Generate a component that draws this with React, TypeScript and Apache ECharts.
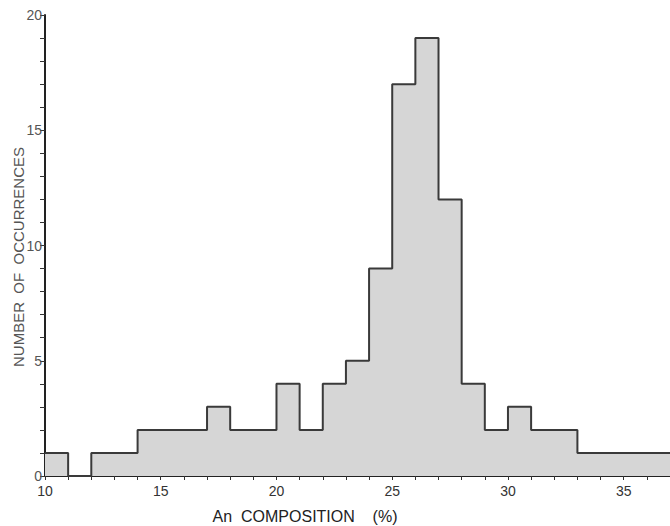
import React, { useEffect, useRef } from "react";
import * as echarts from "echarts";

const binStarts = [10, 11, 12, 13, 14, 15, 16, 17, 18, 19, 20, 21, 22, 23, 24, 25, 26, 27, 28, 29, 30, 31, 32, 33, 34, 35, 36];
const counts = [1, 0, 1, 1, 2, 2, 2, 3, 2, 2, 4, 2, 4, 5, 9, 17, 19, 12, 4, 2, 3, 2, 2, 1, 1, 1, 1];
const binWidth = 1;
const xTitle = "An  COMPOSITION    (%)";
const yTitle = "NUMBER  OF  OCCURRENCES";

export default function App() {
  const ref = useRef<HTMLDivElement>(null);
  useEffect(() => {
    if (!ref.current) return;
    const chart = echarts.init(ref.current, null, { renderer: "svg" });
    const stepData: number[][] = binStarts.map((x, i) => [x, counts[i]]);
    stepData.push([binStarts[binStarts.length - 1] + binWidth, counts[counts.length - 1]]);
    const fmt = (v: number) => (v % 5 === 0 ? String(v) : "");
    chart.setOption({
      animation: false,
      backgroundColor: "#ffffff",
      grid: { left: 45, top: 15, width: 629, height: 461 },
      xAxis: {
        type: "value",
        min: 10,
        max: 37,
        interval: 1,
        axisLine: { lineStyle: { color: "#222", width: 2 } },
        axisTick: { show: true, length: 4, lineStyle: { color: "#333", width: 1 } },
        axisLabel: { formatter: fmt, color: "#333", fontSize: 14, margin: 8, fontFamily: "Liberation Sans, Arial, sans-serif", showMaxLabel: false },
        splitLine: { show: false },
      },
      yAxis: {
        type: "value",
        min: 0,
        max: 20,
        interval: 1,
        axisLine: { show: true, lineStyle: { color: "#222", width: 2 } },
        axisTick: { show: true, length: 5, lineStyle: { color: "#333", width: 1 } },
        axisLabel: { formatter: fmt, color: "#555", fontSize: 14, margin: 3, fontFamily: "Liberation Sans, Arial, sans-serif" },
        splitLine: { show: false },
      },
      graphic: [
        {
          type: "text",
          x: 18,
          y: 257,
          rotation: Math.PI / 2,
          style: {
            text: yTitle,
            fill: "#555",
            fontSize: 15,
            fontFamily: "Liberation Sans, Arial, sans-serif",
            align: "center",
            verticalAlign: "middle",
          },
        },
        {
          type: "text",
          x: 305,
          y: 516,
          style: {
            text: xTitle,
            fill: "#222",
            fontSize: 16,
            fontFamily: "Liberation Sans, Arial, sans-serif",
            align: "center",
            verticalAlign: "middle",
          },
        },
      ],
      series: [
        {
          type: "line",
          step: "end",
          data: stepData,
          symbol: "none",
          lineStyle: { color: "#3a3a3a", width: 2 },
          areaStyle: { color: "#d6d6d6", opacity: 1, origin: "start" },
          z: 1,
        },
      ],
    });
    return () => chart.dispose();
  }, []);
  return <div ref={ref} style={{ width: 670, height: 526, position: "absolute", left: 0, top: 0 }} />;
}
